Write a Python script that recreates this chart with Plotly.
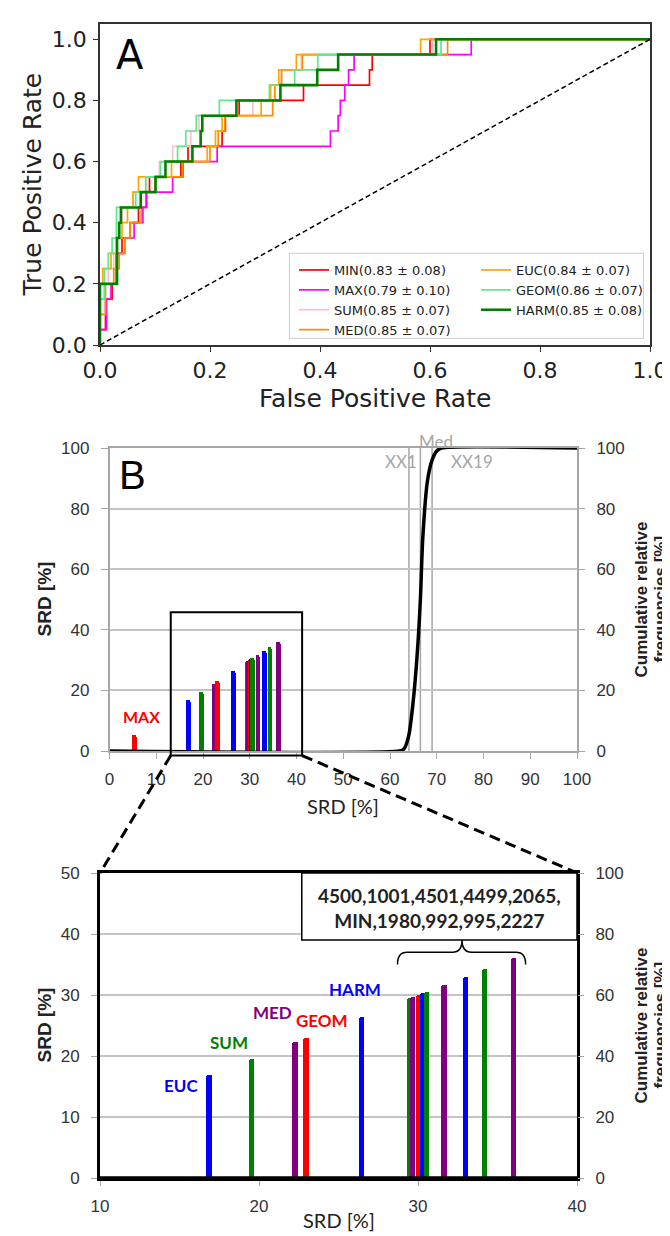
import plotly.graph_objects as go

FIG_W, FIG_H = 670, 1236

# ---------------- Panel A: ROC curves (points where each step rises: fpr, tpr after rise) ----------------
roc_names = ["MIN", "MAX", "SUM", "MED", "EUC", "GEOM", "HARM"]
roc_auc = ["0.83 ± 0.08", "0.79 ± 0.10", "0.85 ± 0.07", "0.85 ± 0.07",
           "0.84 ± 0.07", "0.86 ± 0.07", "0.85 ± 0.08"]

MIN_fpr = [0, 0.01, 0.022, 0.03, 0.04, 0.055, 0.07, 0.084, 0.09, 0.147, 0.16, 0.222, 0.228, 0.253, 0.37, 0.49, 0.495, 0.6, 1.0]
MIN_tpr = [0.05, 0.15, 0.2, 0.3, 0.35, 0.4, 0.45, 0.5, 0.55, 0.6, 0.65, 0.7, 0.75, 0.8, 0.85, 0.9, 0.95, 1.0, 1.0]

MAX_fpr = [0, 0.012, 0.02, 0.03, 0.045, 0.062, 0.078, 0.085, 0.132, 0.151, 0.213, 0.419, 0.433, 0.437, 0.445, 0.452, 0.462, 0.675, 1.0]
MAX_tpr = [0.05, 0.15, 0.2, 0.3, 0.35, 0.4, 0.45, 0.5, 0.55, 0.6, 0.65, 0.7, 0.75, 0.8, 0.85, 0.9, 0.95, 1.0, 1.0]

SUM_fpr = [0, 0.008, 0.015, 0.025, 0.03, 0.04, 0.06, 0.085, 0.108, 0.132, 0.165, 0.18, 0.278, 0.31, 0.33, 0.366, 0.605, 1.0]
SUM_tpr = [0.1, 0.2, 0.25, 0.3, 0.4, 0.45, 0.5, 0.55, 0.6, 0.65, 0.7, 0.75, 0.8, 0.85, 0.9, 0.95, 1.0, 1.0]

MED_fpr = [0, 0.01, 0.025, 0.035, 0.045, 0.055, 0.075, 0.1, 0.15, 0.2, 0.215, 0.227, 0.314, 0.318, 0.33, 0.368, 0.632, 1.0]
MED_tpr = [0.1, 0.2, 0.25, 0.3, 0.35, 0.4, 0.5, 0.55, 0.6, 0.65, 0.7, 0.75, 0.8, 0.85, 0.9, 0.95, 1.0, 1.0]

EUC_fpr = [0, 0.005, 0.02, 0.03, 0.04, 0.05, 0.06, 0.07, 0.13, 0.195, 0.21, 0.222, 0.293, 0.31, 0.325, 0.357, 0.583, 1.0]
EUC_tpr = [0.2, 0.25, 0.3, 0.35, 0.4, 0.45, 0.5, 0.55, 0.6, 0.65, 0.7, 0.75, 0.8, 0.85, 0.9, 0.95, 1.0, 1.0]

GEOM_fpr = [0, 0.008, 0.015, 0.022, 0.03, 0.065, 0.083, 0.11, 0.141, 0.156, 0.175, 0.217, 0.308, 0.354, 0.396, 0.62, 1.0]
GEOM_tpr = [0.15, 0.25, 0.3, 0.35, 0.45, 0.5, 0.55, 0.6, 0.65, 0.7, 0.75, 0.8, 0.85, 0.9, 0.95, 1.0, 1.0]

HARM_fpr = [0, 0.031, 0.035, 0.038, 0.074, 0.101, 0.119, 0.168, 0.183, 0.186, 0.248, 0.328, 0.395, 0.433, 0.611, 1.0]
HARM_tpr = [0.2, 0.35, 0.4, 0.45, 0.5, 0.55, 0.6, 0.65, 0.7, 0.75, 0.8, 0.85, 0.9, 0.95, 1.0, 1.0]

roc_fpr = [MIN_fpr, MAX_fpr, SUM_fpr, MED_fpr, EUC_fpr, GEOM_fpr, HARM_fpr]
roc_tpr = [MIN_tpr, MAX_tpr, SUM_tpr, MED_tpr, EUC_tpr, GEOM_tpr, HARM_tpr]
roc_colors = ["#ff0000", "#ff00ff", "#ffc0cb", "#ff8c00", "#ffa500", "#5fe88c", "#008000"]
roc_widths = [1.7, 1.7, 1.7, 1.7, 1.7, 1.7, 2.6]
roc_legend = ["legend", "legend", "legend", "legend", "legend2", "legend2", "legend2"]

# ---------------- Panel B: SRD values ----------------
bar_srd = [5.2, 16.86, 19.55, 22.26, 22.96, 26.45, 29.46, 29.65, 30.05, 30.27, 30.54, 31.64, 32.98, 34.19, 35.99]
bar_colors = ["#ff0000", "#0000ff", "#008000", "#800080", "#ff0000", "#0000ff",
              "#008000", "#800080", "#ff0000", "#0000ff", "#008000", "#800080", "#0000ff", "#008000", "#800080"]

cum_srd = [0, 62, 63, 64, 65, 66, 66.5, 67, 68, 69, 70, 71, 100]
cum_freq = [0, 0, 0.7, 5, 17, 36, 50, 70, 89, 96, 99, 100, 100]

ref_lines = {"XX1": 64.05, "Med": 66.5, "XX19": 69.0}
zoom_x = [13.1, 41.2]
zoom_y = [-1.5, 45.8]

labels_bottom = ["EUC", "SUM", "MED", "GEOM", "HARM"]
labels_bottom_pos = [(15.08, 15.1), (18.1, 22.2), (20.86, 27.2), (23.95, 25.8), (26.02, 30.9)]
labels_bottom_col = ["#0000ff", "#008000", "#800080", "#ff0000", "#0000ff"]
cluster_text = "4500,1001,4501,4499,2065,<br>MIN,1980,992,995,2227"

# ---------------- layout geometry (pixels) ----------------
A_BOX = (92, 642, 16, 337)       # left, right, top, bottom
BT_BOX = (101.5, 569, 440, 743)
BB_BOX = (92, 569, 865, 1170)
LEG_BOX = (281.4, 635.4, 245.3, 330.4)


def pxx(px):
    return px / FIG_W


def pxy(py):
    return 1 - py / FIG_H


def dom_x(box):
    return [pxx(box[0]), pxx(box[1])]


def dom_y(box):
    return [pxy(box[3]), pxy(box[2])]


def data_to_paper(box, xr, yr, x, y):
    dx, dy = dom_x(box), dom_y(box)
    return (dx[0] + (x - xr[0]) / (xr[1] - xr[0]) * (dx[1] - dx[0]),
            dy[0] + (y - yr[0]) / (yr[1] - yr[0]) * (dy[1] - dy[0]))


fig = go.Figure()

# ROC curves
for name, auc, fx, ty, col, w, lg in zip(roc_names, roc_auc, roc_fpr, roc_tpr, roc_colors, roc_widths, roc_legend):
    fig.add_trace(go.Scatter(x=[0] + fx, y=[0] + ty, mode="lines", line=dict(color=col, width=w, shape="hv"),
                             name=f"{name}({auc})", legend=lg, xaxis="x", yaxis="y"))
fig.add_trace(go.Scatter(x=[0, 1], y=[0, 1], mode="lines", line=dict(color="black", width=1.5, dash="5px,3px"),
                         showlegend=False, xaxis="x", yaxis="y"))

# Panel B top
fig.add_trace(go.Bar(x=bar_srd, y=bar_srd, width=1.0, marker=dict(color=bar_colors, cornerradius=2, line_width=0),
                     showlegend=False, xaxis="x2", yaxis="y2"))
fig.add_trace(go.Scatter(x=cum_srd, y=cum_freq, mode="lines", line=dict(color="black", width=3.5, shape="spline", smoothing=0.6),
                         showlegend=False, xaxis="x2", yaxis="y3"))
# Panel B bottom (zoom)
fig.add_trace(go.Bar(x=bar_srd, y=bar_srd, width=0.33, marker=dict(color=bar_colors, cornerradius=2, line_width=0),
                     showlegend=False, xaxis="x3", yaxis="y4"))
fig.add_trace(go.Scatter(x=cum_srd, y=cum_freq, mode="lines", line=dict(color="black", width=3.5),
                         showlegend=False, xaxis="x3", yaxis="y5"))

dj = "DejaVu Sans"
ar = "Liberation Sans, Arial"
cal = "Lato, Open Sans"
grey = "#a6a6a6"
tickc = "#333333"
legfont = dict(family="DejaVu Sans", size=13, color="#222")

fig.update_layout(
    width=FIG_W, height=FIG_H, margin=dict(l=0, r=0, t=0, b=0),
    paper_bgcolor="white", plot_bgcolor="white", template="none",
    bargap=0, barmode="overlay",
    xaxis=dict(domain=dom_x(A_BOX), range=[0, 1], anchor="y", showline=True, linecolor="#333", linewidth=1.5,
               mirror=True, ticks="outside", ticklen=5, tickwidth=1.2, tickcolor="#333",
               tickvals=[0, 0.2, 0.4, 0.6, 0.8, 1.0], ticktext=["0.0", "0.2", "0.4", "0.6", "0.8", "1.0"],
               tickfont=dict(family=dj, size=22, color="#222"), showgrid=False, zeroline=False),
    yaxis=dict(domain=dom_y(A_BOX), range=[0, 1.05], anchor="x", showline=True, linecolor="#333", linewidth=1.5,
               mirror=True, ticks="outside", ticklen=5, tickwidth=1.2, tickcolor="#333",
               tickvals=[0, 0.2, 0.4, 0.6, 0.8, 1.0], ticktext=["0.0", "0.2", "0.4", "0.6", "0.8", "1.0"],
               tickfont=dict(family=dj, size=22, color="#222"), showgrid=False, zeroline=False, ticklabelstandoff=2),
    xaxis2=dict(domain=dom_x(BT_BOX), range=[0, 100], anchor="y2", dtick=10, showline=True, linecolor=grey,
                linewidth=1.5, mirror=True, ticks="outside", ticklen=6, tickcolor=grey, showgrid=False,
                zeroline=False, tickfont=dict(family=ar, size=17, color=tickc), ticklabelstandoff=6),
    yaxis2=dict(domain=dom_y(BT_BOX), range=[0, 100], anchor="x2", dtick=20, showline=True, linecolor=grey,
                linewidth=1.5, mirror=True, ticks="outside", ticklen=7, tickcolor=grey, showgrid=True,
                gridcolor="#c4c4c4", gridwidth=1.5, zeroline=False,
                tickfont=dict(family=ar, size=17, color=tickc), ticklabelstandoff=8),
    yaxis3=dict(overlaying="y2", side="right", anchor="x2", range=[0, 100], dtick=20, showline=False,
                ticks="outside", ticklen=7, tickcolor=grey, showgrid=False, zeroline=False,
                tickfont=dict(family=ar, size=17, color=tickc), ticklabelstandoff=8),
    xaxis3=dict(domain=dom_x(BB_BOX), range=[10, 40], anchor="y4", dtick=10, showline=True, linecolor="black",
                linewidth=3, mirror=True, ticks="outside", ticklen=5, tickcolor=grey, showgrid=False,
                zeroline=False, tickfont=dict(family=ar, size=17, color=tickc), ticklabelstandoff=6),
    yaxis4=dict(domain=dom_y(BB_BOX), range=[0, 50], anchor="x3", dtick=10, showline=True, linecolor="black",
                linewidth=3, mirror=True, ticks="outside", ticklen=6, tickcolor=grey, showgrid=True,
                gridcolor="#c4c4c4", gridwidth=1.5, zeroline=False,
                tickfont=dict(family=ar, size=17, color=tickc), ticklabelstandoff=8),
    yaxis5=dict(overlaying="y4", side="right", anchor="x3", range=[0, 100], dtick=20, showline=False,
                ticks="outside", ticklen=6, tickcolor=grey, showgrid=False, zeroline=False,
                tickfont=dict(family=ar, size=17, color=tickc), ticklabelstandoff=8),
    legend=dict(x=pxx(286), y=pxy(247), xanchor="left", yanchor="top", orientation="v",
                font=legfont, borderwidth=0, bgcolor="rgba(0,0,0,0)", traceorder="normal"),
    legend2=dict(x=pxx(468), y=pxy(247), xanchor="left", yanchor="top", orientation="v",
                 font=legfont, borderwidth=0, bgcolor="rgba(0,0,0,0)", traceorder="normal"),
)

shapes = []
# legend frame
shapes.append(dict(type="rect", xref="paper", yref="paper", x0=pxx(LEG_BOX[0]), x1=pxx(LEG_BOX[1]),
                   y0=pxy(LEG_BOX[3]), y1=pxy(LEG_BOX[2]), line=dict(color="#cccccc", width=1),
                   fillcolor="rgba(255,255,255,0.85)"))
# reference lines in top B
for nm, xv in ref_lines.items():
    shapes.append(dict(type="line", xref="x2", yref="y2", x0=xv, x1=xv, y0=0, y1=100,
                       line=dict(color=grey, width=1.5), layer="below"))
# zoom rectangle (in paper space so it is not clipped)
bt_xr, bt_yr = [0, 100], [0, 100]
bb_xr, bb_yr = [10, 40], [0, 50]
p0 = data_to_paper(BT_BOX, bt_xr, bt_yr, zoom_x[0], zoom_y[0])
p1 = data_to_paper(BT_BOX, bt_xr, bt_yr, zoom_x[1], zoom_y[1])
shapes.append(dict(type="rect", xref="paper", yref="paper", x0=p0[0], y0=p0[1], x1=p1[0], y1=p1[1],
                   line=dict(color="black", width=2)))
# dashed connectors
q0 = data_to_paper(BB_BOX, bb_xr, bb_yr, bb_xr[0], bb_yr[1])
q1 = data_to_paper(BB_BOX, bb_xr, bb_yr, bb_xr[1], bb_yr[1])
shapes.append(dict(type="line", xref="paper", yref="paper", x0=p0[0], y0=p0[1], x1=q0[0], y1=q0[1],
                   line=dict(color="black", width=3, dash="11px,6px")))
shapes.append(dict(type="line", xref="paper", yref="paper", x0=p1[0], y0=p0[1], x1=q1[0], y1=q1[1],
                   line=dict(color="black", width=3, dash="11px,6px")))
# annotation box in bottom panel
shapes.append(dict(type="rect", xref="x3", yref="y4", x0=22.69, x1=40, y0=39.0, y1=50,
                   fillcolor="white", line=dict(color="black", width=1.5)))
# curly brace
bx0, bx1, bxc, by_end, by_mid, by_tip = 28.71, 36.77, 32.77, 35.0, 37.0, 39.0
brace = (f"M {bx0},{by_end} Q {bx0},{by_mid} {bx0+0.6},{by_mid} L {bxc-0.6},{by_mid} "
         f"Q {bxc},{by_mid} {bxc},{by_tip} Q {bxc},{by_mid} {bxc+0.6},{by_mid} "
         f"L {bx1-0.6},{by_mid} Q {bx1},{by_mid} {bx1},{by_end}")
shapes.append(dict(type="path", xref="x3", yref="y4", path=brace, line=dict(color="black", width=1.5)))
fig.update_layout(shapes=shapes)


def pann(px, py, text, font, angle=0):
    return dict(xref="paper", yref="paper", x=pxx(px), y=pxy(py), text=text, showarrow=False,
                xanchor="center", yanchor="middle", textangle=angle, font=font)


ann = []
ann.append(dict(xref="x", yref="y", x=0.055, y=0.95, text="A", showarrow=False, xanchor="center", yanchor="middle",
                font=dict(family=dj, size=40, color="black")))
ann.append(pann((A_BOX[0] + A_BOX[1]) / 2, 390, "False Positive Rate", dict(family=dj, size=25, color="#222")))
ann.append(pann(24, (A_BOX[2] + A_BOX[3]) / 2, "True Positive Rate", dict(family=dj, size=25, color="#222"), -90))
# top B
ann.append(dict(xref="x2", yref="y2", x=5, y=91, text="B", showarrow=False, xanchor="center", yanchor="middle",
                font=dict(family=ar, size=40, color="black")))
ann.append(dict(xref="x2", yref="y2", x=6.9, y=11.4, text="<b>MAX</b>", showarrow=False, xanchor="center",
                yanchor="middle", font=dict(family=cal, size=16, color="#ff0000")))
ref_label_pos = {"XX1": (62.3, 95.4), "Med": (69.9, 102.3), "XX19": (77.5, 95.4)}
for nm, (lx, ly) in ref_label_pos.items():
    ppx, ppy = data_to_paper(BT_BOX, bt_xr, bt_yr, lx, ly)
    ann.append(dict(xref="paper", yref="paper", x=ppx, y=ppy, text=nm, showarrow=False, xanchor="center",
                    yanchor="middle", font=dict(family=cal, size=17, color=grey)))
for yc in [(BT_BOX[2] + BT_BOX[3]) / 2, (BB_BOX[2] + BB_BOX[3]) / 2]:
    ann.append(pann(36, yc, "<b>SRD [%]</b>", dict(family=ar, size=19, color="#222"), -90))
    ann.append(pann(633, yc, "<b>Cumulative relative</b>", dict(family=ar, size=17, color="#222"), -90))
    ann.append(pann(652, yc, "<b>frequencies [%]</b>", dict(family=ar, size=17, color="#222"), -90))
ann.append(pann((BT_BOX[0] + BT_BOX[1]) / 2, 798, "SRD [%]", dict(family=cal, size=20, color="#222")))
ann.append(pann((BB_BOX[0] + BB_BOX[1]) / 2, 1212, "SRD [%]", dict(family=cal, size=20, color="#222")))
# bottom labels
for t, (lx, ly), c in zip(labels_bottom, labels_bottom_pos, labels_bottom_col):
    ann.append(dict(xref="x3", yref="y4", x=lx, y=ly, text=f"<b>{t}</b>", showarrow=False, xanchor="center",
                    yanchor="middle", font=dict(family=cal, size=17, color=c)))
ann.append(dict(xref="x3", yref="y4", x=31.35, y=44.3, text=f"<b>{cluster_text}</b>", showarrow=False,
                xanchor="center", yanchor="middle", font=dict(family=cal, size=19, color="#222")))
fig.update_layout(annotations=ann)

fig.write_html("out.html")
